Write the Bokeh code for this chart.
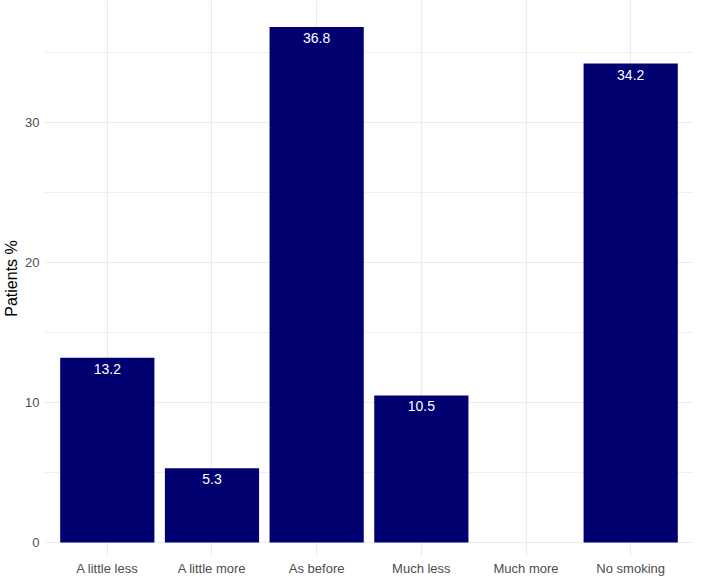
from bokeh.plotting import figure
from bokeh.models import ColumnDataSource, FactorRange, Range1d, SingleIntervalTicker
from bokeh.core.properties import value
from bokeh.embed import file_html
from bokeh.resources import INLINE

categories = ["A little less", "A little more", "As before", "Much less", "Much more", "No smoking"]
percent = [13.2, 5.3, 36.8, 10.5, 0.0, 34.2]
label_text = ["13.2", "5.3", "36.8", "10.5", "0", "34.2"]

src = ColumnDataSource(dict(cat=categories, pct=percent, lab=label_text))

FONT = "Liberation Sans"

p = figure(
    width=693, height=578,
    x_range=FactorRange(*categories, range_padding=0.2 / 6, range_padding_units="percent"),
    y_range=Range1d(-1.0, 38.7),
    output_backend="svg", toolbar_location=None,
    min_border_left=0, min_border_right=0, min_border_top=0, min_border_bottom=0,
)
p.outline_line_color = None
p.background_fill_color = "white"
p.border_fill_color = "white"

p.vbar(x="cat", top="pct", width=0.9, source=src, fill_color="#000070", line_color=None)
p.text(x="cat", y="pct", text="lab", source=src, text_color="white",
       text_font=value(FONT), text_font_size="14px",
       text_align="center", text_baseline="middle", y_offset=11)

p.yaxis.ticker = SingleIntervalTicker(interval=10, num_minor_ticks=2)
for ax in (p.xaxis[0], p.yaxis[0]):
    ax.axis_line_color = None
    ax.major_tick_line_color = None
    ax.minor_tick_line_color = None
    ax.major_tick_out = 0
    ax.major_tick_in = 0
    ax.minor_tick_out = 0
    ax.minor_tick_in = 0
    ax.major_label_text_font = FONT
    ax.major_label_text_font_size = "13px"
    ax.major_label_text_color = "#4D4D4D"

p.xaxis.axis_label = None
p.xaxis.axis_label_standoff = 0
p.xaxis.major_label_standoff = 4
p.yaxis.major_label_standoff = 5
p.yaxis.axis_label = "Patients %"
p.yaxis.axis_label_text_font = FONT
p.yaxis.axis_label_text_font_size = "16px"
p.yaxis.axis_label_text_font_style = "normal"
p.yaxis.axis_label_text_color = "black"
p.yaxis.axis_label_standoff = 2

p.xgrid.grid_line_color = "#EBEBEB"
p.xgrid.grid_line_width = 1.1
p.ygrid.grid_line_color = "#EBEBEB"
p.ygrid.grid_line_width = 1.1
p.ygrid.minor_grid_line_color = "#EFEFEF"
p.ygrid.minor_grid_line_width = 1

open("out.html", "w").write(file_html(p, INLINE))
